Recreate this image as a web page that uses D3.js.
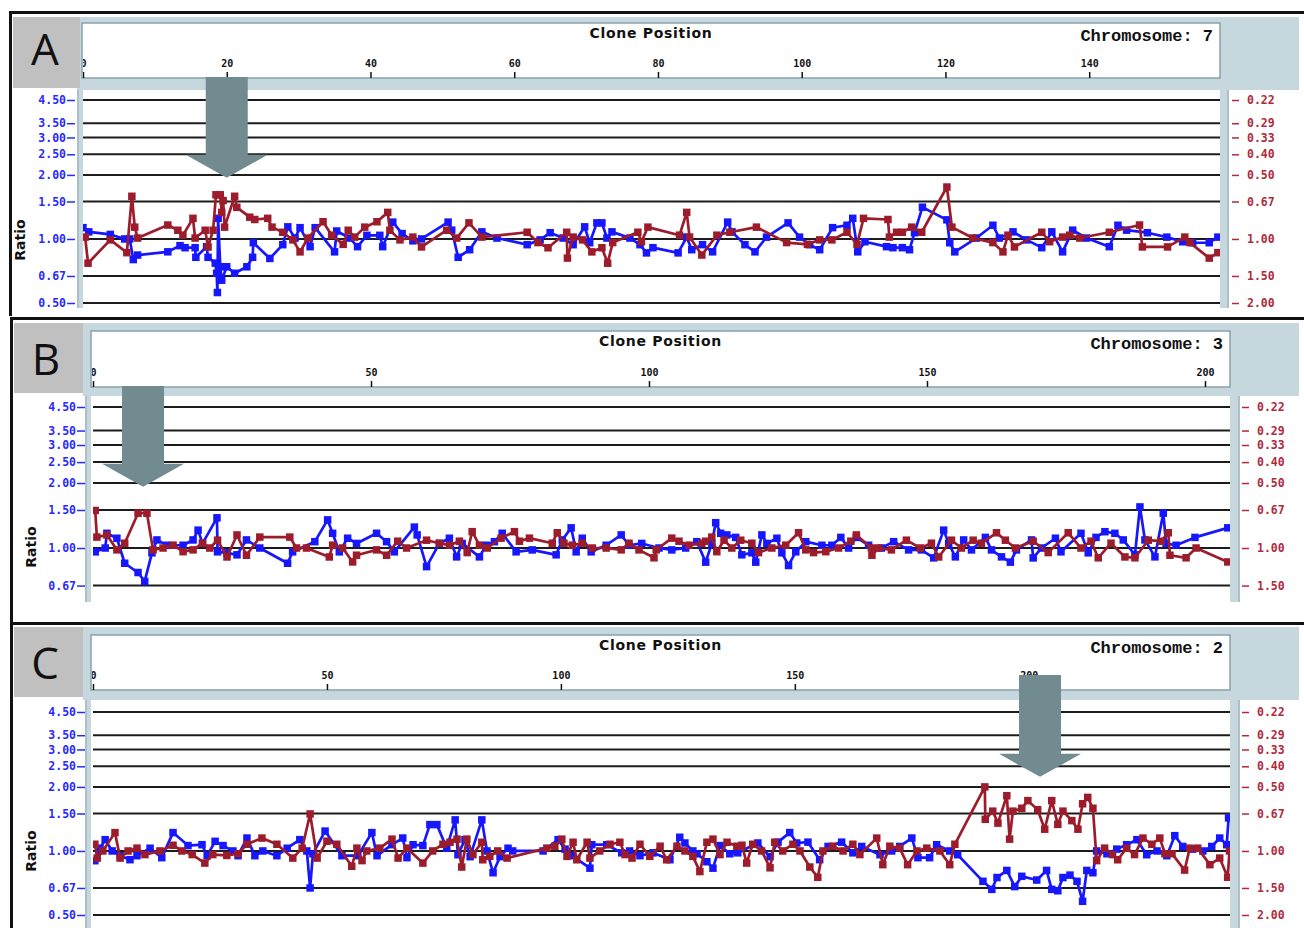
<!DOCTYPE html>
<html><head><meta charset="utf-8">
<script src="https://cdn.jsdelivr.net/npm/d3@7"></script>
<style>body{margin:0;background:#fff}svg{display:block}</style>
</head><body><svg id="c" width="1304" height="928"></svg>
<script>
// ---------------- DATA ----------------
const panelNames = ["A", "B", "C"];
const chromosomes = ["Chromosome: 7", "Chromosome: 3", "Chromosome: 2"];
const xTicksA = [0, 20, 40, 60, 80, 100, 120, 140];
const xTicksB = [0, 50, 100, 150, 200];
const xTicksC = [0, 50, 100, 150, 200];
const xMaxes = [158.2, 204.5, 243];
const leftTicks = [4.5, 3.5, 3, 2.5, 2, 1.5, 1, 0.67, 0.5];
const leftTickLabels = ["4.50", "3.50", "3.00", "2.50", "2.00", "1.50", "1.00", "0.67", "0.50"];
const rightTickLabels = ["0.22", "0.29", "0.33", "0.40", "0.50", "0.67", "1.00", "1.50", "2.00"];
const arrowPos = [20, 9, 202.4];
const arrowRatio = [1.94, 1.92, 2.23];

// blue: [clone position, ratio (left axis)]; red: [clone position, value (right axis)]
const blueA = [[0,1.13],[0.8,1.08],[3.8,1.05],[5.8,1.00],[6.5,1.00],[7.0,0.80],[7.6,0.84],[11.8,0.87],[13.5,0.93],[14.2,0.91],[15.6,0.91],[15.7,0.82],[17.2,0.92],[17.4,0.82],[18.4,0.77],[18.6,0.69],[18.7,0.56],[18.8,1.25],[19.1,0.74],[19.3,0.64],[20.0,0.74],[21.1,0.69],[22.8,0.74],[23.6,0.82],[23.7,0.96],[26.0,0.81],[27.8,0.94],[28.5,1.14],[29.5,1.01],[30.2,1.13],[31.6,0.92],[32.3,1.13],[35.0,0.87],[35.3,1.09],[37.1,1.01],[38.2,0.92],[39.5,1.04],[41.3,1.04],[41.7,0.92],[43.1,1.20],[44.4,1.06],[45.9,0.98],[47.1,1.00],[50.8,1.20],[51.3,1.10],[52.2,0.82],[53.8,0.89],[55.5,1.08],[57.6,1.01],[61.8,0.94],[63.6,0.99],[65.0,1.07],[66.8,1.01],[68.2,0.94],[69.8,1.14],[70.5,0.96],[71.5,1.19],[72.2,1.19],[72.9,1.01],[73.6,1.08],[76.1,1.01],[77.5,0.94],[78.4,0.86],[79.3,0.91],[82.8,0.86],[84.0,1.02],[84.7,0.89],[86.2,0.94],[87.6,0.87],[89.7,1.20],[90.3,1.08],[92.1,0.94],[93.5,0.87],[95.1,1.02],[98.1,1.19],[99.7,1.02],[101.1,0.94],[102.5,0.89],[104.3,1.13],[106.3,1.16],[107.1,1.25],[107.8,0.87],[108.8,0.97],[111.8,0.92],[112.7,0.91],[114.0,0.91],[115.0,0.89],[115.7,1.07],[116.8,1.41],[120.2,1.23],[120.6,0.96],[121.3,0.87],[124.3,1.01],[126.6,1.16],[127.5,1.01],[129.4,1.08],[131.3,0.99],[133.4,0.91],[134.8,1.08],[136.3,0.87],[137.7,1.10],[139.6,1.01],[142.8,0.92],[144.0,1.16],[145.2,1.10],[148.1,1.07],[150.8,1.02],[153.0,0.97],[154.4,0.96],[156.7,0.96],[157.9,1.02]];
const redA = [[0.3,0.98],[0.7,1.30],[3.8,1.01],[6.1,1.16],[6.8,0.63],[7.2,0.88],[7.6,0.99],[11.8,0.86],[13.2,0.91],[13.9,0.96],[15.3,0.80],[15.6,0.99],[17.0,0.91],[17.4,1.09],[18.1,0.91],[18.5,0.62],[19.1,0.62],[19.3,0.75],[19.5,0.66],[19.7,0.88],[21.1,0.63],[21.4,0.71],[23.2,0.79],[23.9,0.81],[25.7,0.80],[26.3,0.88],[27.8,0.93],[29.2,1.01],[30.2,1.15],[31.3,0.99],[33.4,0.83],[34.6,0.96],[36.2,1.06],[36.9,0.91],[37.8,0.98],[39.2,0.88],[40.9,0.83],[42.4,0.75],[42.7,0.91],[44.1,1.01],[45.9,0.98],[47.1,1.09],[50.6,0.91],[52.0,0.99],[53.7,0.84],[55.5,0.98],[61.8,0.93],[63.3,1.04],[64.7,1.10],[67.3,0.93],[67.4,1.23],[68.2,0.98],[69.5,1.01],[70.8,1.15],[72.2,1.10],[73.0,1.30],[73.7,1.04],[77.2,0.93],[77.7,1.03],[78.6,0.88],[83.0,0.96],[84.0,0.75],[84.4,0.98],[86.1,1.19],[88.2,0.96],[90.0,0.93],[93.7,0.88],[97.9,1.04],[100.8,1.06],[102.5,1.01],[104.2,1.01],[106.3,0.93],[107.7,1.06],[108.6,0.80],[112.0,0.81],[112.2,0.98],[113.2,0.93],[114.0,0.93],[115.3,0.88],[116.7,0.93],[120.2,0.57],[120.9,0.88],[123.8,0.99],[126.6,1.04],[128.0,1.15],[128.7,0.96],[129.6,1.09],[133.4,0.93],[134.5,1.03],[136.3,0.98],[137.3,0.96],[138.7,0.99],[142.8,0.93],[147.0,0.86],[147.4,1.09],[150.9,1.09],[153.3,0.98],[154.0,1.04],[156.7,1.23],[157.9,1.16]];
const blueB = [[0.4,0.96],[2.2,1.00],[2.5,1.17],[4.3,1.11],[5.7,0.85],[8.1,0.77],[9.3,0.70],[10.6,0.95],[11.5,1.09],[13.3,1.03],[16.2,1.03],[18.0,1.09],[18.9,1.21],[19.7,1.05],[22.3,1.38],[22.4,0.96],[24.1,0.95],[25.9,0.93],[27.6,1.09],[30.0,1.00],[35.0,0.85],[35.9,0.96],[39.9,1.07],[42.2,1.35],[43.1,1.17],[44.3,0.96],[45.8,1.11],[47.4,1.05],[51.0,1.17],[52.8,1.07],[54.2,0.96],[57.8,1.25],[58.3,1.15],[60.0,0.82],[62.3,1.05],[64.1,1.11],[65.4,0.91],[66.4,1.05],[69.5,0.91],[70.7,1.03],[72.2,1.07],[73.6,1.17],[76.1,0.96],[79.0,0.98],[83.3,0.93],[84.4,1.09],[86.0,1.24],[86.9,0.96],[88.0,1.11],[89.6,0.96],[92.3,1.03],[95.0,1.15],[96.4,1.03],[98.7,1.05],[101.8,1.00],[104.1,0.98],[106.6,1.00],[108.6,1.07],[110.2,0.86],[111.3,1.05],[112.0,1.31],[112.9,1.17],[114.0,1.15],[115.6,1.12],[116.7,0.93],[118.5,0.95],[119.2,0.86],[120.3,1.15],[121.2,1.05],[123.0,1.11],[123.9,0.95],[125.1,0.83],[126.4,0.96],[128.2,1.07],[131.1,1.03],[132.9,1.03],[134.5,1.12],[135.9,1.00],[137.3,1.12],[139.5,1.03],[141.8,1.00],[144.0,1.07],[146.7,0.98],[149.0,0.98],[151.2,0.90],[153.0,1.21],[153.9,1.05],[155.1,0.91],[156.6,1.09],[158.0,0.98],[160.5,1.12],[161.6,0.98],[163.4,0.91],[165.0,0.86],[166.1,0.98],[168.8,1.09],[169.1,0.90],[170.6,1.00],[173.1,1.11],[174.1,0.96],[177.7,1.17],[179.0,0.95],[180.4,1.12],[182.0,1.19],[183.8,1.17],[185.3,1.09],[187.4,0.93],[188.3,1.55],[189.2,1.09],[191.0,0.91],[192.5,1.45],[193.0,1.05],[194.8,1.03],[198.2,1.12],[204.1,1.24]];
const redB = [[0.4,0.67],[0.7,0.89],[2.5,0.87],[4.3,1.02],[5.7,0.95],[8.1,0.69],[9.7,0.69],[10.8,1.02],[12.6,1.00],[14.4,0.97],[16.2,1.04],[18.0,1.02],[19.7,0.95],[21.0,1.00],[22.4,0.92],[24.1,1.10],[25.9,0.87],[27.6,1.08],[30.0,0.89],[35.4,0.89],[36.6,1.00],[38.4,1.00],[42.5,1.10],[43.1,0.97],[44.9,1.00],[46.7,1.16],[47.4,1.08],[51.0,1.02],[52.8,1.08],[54.8,0.93],[56.4,1.00],[60.0,0.92],[62.3,0.95],[64.1,0.97],[65.9,0.93],[67.3,1.05],[68.2,0.84],[69.5,0.97],[70.9,1.00],[73.4,0.90],[75.8,0.84],[76.7,0.93],[78.5,0.90],[82.6,0.95],[83.5,0.85],[84.7,0.95],[86.2,0.97],[88.0,0.95],[89.8,1.00],[92.3,1.00],[95.0,1.02],[96.4,0.95],[98.2,1.02],[100.9,1.11],[101.3,1.02],[104.1,0.90],[105.4,0.93],[107.2,0.97],[109.5,0.95],[110.2,0.93],[111.3,0.89],[112.2,1.04],[113.5,0.92],[114.9,1.00],[116.5,0.92],[118.5,0.95],[119.7,1.05],[122.1,1.00],[124.6,0.97],[126.9,0.85],[128.2,1.02],[129.6,1.05],[131.8,1.04],[134.1,1.00],[136.3,0.93],[137.3,0.87],[140.0,1.00],[140.1,1.08],[141.3,1.00],[143.6,1.02],[146.3,0.92],[148.8,1.00],[150.8,0.95],[152.1,1.10],[154.4,0.92],[156.2,1.00],[158.3,0.92],[159.8,0.95],[162.5,0.85],[164.1,0.92],[165.9,1.00],[169.1,0.93],[171.8,1.05],[175.4,0.85],[177.7,1.00],[179.5,0.93],[180.8,1.11],[183.1,0.95],[185.6,1.10],[187.4,1.11],[189.8,0.92],[192.1,0.93],[193.4,0.85],[193.7,1.08],[196.6,1.11],[198.4,1.00],[204.1,1.16]];
const blueC = [[0.4,0.90],[1.5,1.03],[2.6,1.13],[4.1,1.00],[5.8,0.95],[7.9,0.91],[9.4,0.95],[12.2,1.03],[14.7,0.93],[17.1,1.22],[20.3,1.06],[23.3,1.07],[24.4,0.95],[26.1,1.11],[27.8,1.06],[29.9,1.00],[31.0,0.95],[32.9,1.15],[34.6,0.95],[36.3,1.00],[39.3,0.95],[41.5,1.03],[44.2,1.13],[45.7,1.00],[46.4,0.67],[47.0,0.97],[49.6,1.24],[53.2,0.95],[56.6,0.95],[59.6,1.22],[60.7,0.95],[63.9,1.07],[66.2,1.15],[67.1,0.93],[68.4,1.07],[70.5,1.06],[72.0,1.33],[73.5,1.33],[75.6,1.03],[77.4,1.40],[78.0,0.96],[79.5,1.13],[80.6,0.94],[83.1,1.40],[84.2,1.00],[85.5,0.79],[87.0,0.94],[88.7,1.03],[89.7,1.00],[96.2,1.00],[99.4,1.13],[100.9,1.02],[102.4,0.95],[106.2,0.83],[106.6,1.07],[109.8,1.07],[113.0,0.98],[114.7,1.00],[116.9,0.95],[119.7,0.98],[123.3,0.91],[125.4,1.16],[126.5,1.09],[128.2,1.00],[129.1,0.97],[131.2,0.89],[132.5,0.83],[134.0,1.06],[136.1,0.97],[137.8,0.98],[142.1,1.09],[144.7,0.94],[146.4,1.10],[148.9,1.22],[150.4,1.09],[152.8,1.10],[155.3,0.91],[157.1,1.05],[160.0,1.10],[162.4,0.98],[164.3,1.05],[168.2,0.96],[170.7,1.00],[172.4,1.05],[175.0,1.15],[176.3,0.93],[178.8,0.93],[180.3,1.07],[183.1,1.00],[184.8,0.96],[190.2,0.72],[192.1,0.66],[193.2,0.75],[195.3,0.81],[197.0,0.68],[198.5,0.76],[201.7,0.73],[203.8,0.81],[204.9,0.66],[206.2,0.65],[207.3,0.75],[208.8,0.77],[210.3,0.72],[211.5,0.58],[212.4,0.81],[213.7,0.79],[214.5,1.00],[216.7,0.97],[218.8,1.02],[220.9,1.07],[223.1,1.13],[225.2,0.96],[227.4,1.00],[229.5,0.95],[231.2,1.18],[232.9,1.05],[235.0,1.02],[237.2,1.00],[239.1,1.05],[240.8,1.15],[242.3,1.07],[242.7,1.43]];
const redC = [[0.4,0.93],[0.9,1.08],[2.1,1.00],[4.7,0.82],[5.8,1.08],[7.5,1.00],[9.4,0.97],[11.1,1.04],[14.3,1.00],[17.1,0.94],[19.0,1.00],[21.2,1.04],[23.9,1.14],[25.6,1.04],[28.6,1.05],[31.0,1.03],[32.9,0.93],[36.1,0.87],[39.3,0.93],[42.7,1.08],[44.7,0.97],[46.4,0.67],[47.9,1.08],[50.0,0.90],[52.1,0.93],[55.3,1.18],[56.4,0.97],[57.5,1.11],[58.5,1.00],[61.3,0.97],[63.9,0.88],[65.2,1.08],[67.1,0.97],[70.5,1.14],[72.6,1.00],[74.8,0.93],[76.3,0.91],[77.8,0.88],[78.8,1.19],[79.9,0.88],[81.2,1.04],[83.1,0.91],[83.3,1.10],[84.8,1.06],[86.5,1.00],[88.5,1.08],[97.0,0.97],[98.7,0.95],[100.2,0.88],[101.3,1.06],[102.6,0.91],[103.4,1.10],[105.6,0.91],[106.2,1.08],[108.3,1.00],[110.5,0.93],[112.6,0.91],[113.7,1.04],[115.2,1.08],[116.9,0.93],[119.0,1.06],[121.2,0.95],[122.6,1.10],[124.8,0.95],[126.5,1.00],[128.2,1.06],[129.7,1.25],[131.2,0.91],[132.5,0.88],[134.0,1.04],[135.5,0.91],[137.6,0.95],[138.7,0.94],[139.7,1.14],[141.0,0.93],[142.9,1.00],[144.7,1.20],[145.7,0.91],[147.4,1.00],[149.6,0.93],[151.1,1.00],[153.2,1.19],[154.9,1.33],[156.0,1.00],[158.1,0.95],[160.3,1.00],[162.4,0.93],[163.9,1.04],[167.5,0.87],[168.8,1.16],[170.3,0.95],[172.4,0.97],[174.1,1.16],[176.1,1.00],[178.2,0.97],[181.0,1.00],[183.1,1.16],[184.2,0.93],[190.6,0.50],[190.7,0.71],[192.3,0.65],[193.4,0.74],[195.3,0.55],[195.9,0.88],[196.6,0.65],[198.5,0.63],[199.8,0.58],[201.9,0.64],[203.4,0.79],[204.9,0.58],[206.2,0.75],[207.3,0.65],[209.2,0.72],[210.5,0.79],[211.5,0.60],[212.6,0.56],[213.7,0.63],[214.5,1.11],[216.2,0.97],[217.9,1.04],[219.0,1.10],[220.9,0.97],[222.6,1.04],[224.4,0.87],[226.3,0.93],[228.0,0.87],[229.1,1.03],[230.6,1.03],[233.3,1.23],[234.4,0.97],[236.1,0.97],[238.7,1.16],[240.8,1.08],[242.5,1.33],[242.9,1.00]];

// ---------------- LAYOUT ----------------
const layout = [
  {top:11, left:9, bottom:316, grey:[13,17,80,88], band:[80,17,1299,90], header:[82,23,1220,78], plot:[83,90,1220,308],
   lstrip:[77,83], rstrip:[1220,1229], ldash:[67,75], rdash:[1232,1239], yr:[303,100], ratio:[20,240], letter:[45,48], shaftTop:77},
  {top:317, left:10, bottom:623, grey:[14,323,83,393], band:[83,323,1299,396], header:[91,331,1230,387], plot:[93,396,1230,602],
   lstrip:[85,91], rstrip:[1230,1240], ldash:[77,85], rdash:[1242,1249], yr:[613,407], ratio:[31,547], letter:[46,358], shaftTop:386},
  {top:622, left:10, bottom:928, grey:[14,627,83,697], band:[83,627,1299,700], header:[91,635,1230,690], plot:[93,700,1230,928],
   lstrip:[85,91], rstrip:[1230,1240], ldash:[77,85], rdash:[1242,1249], yr:[915,712], ratio:[31,851], letter:[45,662], shaftTop:675}
];

const LB = "#c7d7de", GREY = "#c0c0c0", BLUE = "#1616ff", RED = "#9c1c2c", ARROW = "#728b90";
const BLUE_T = "#2a2aff", RED_T = "#b02a3c";
const panelData = [
  {xTicks:xTicksA, blue:blueA, red:redA},
  {xTicks:xTicksB, blue:blueB, red:redB},
  {xTicks:xTicksC, blue:blueC, red:redC}
];

const svg = d3.select("#c");
const defs = svg.append("defs");

panelNames.forEach((name, i) => {
  const L = layout[i], D = panelData[i];
  const g = svg.append("g");
  const [hx0, hy0, hx1, hy1] = L.header;
  const [px0, py0, px1, py1] = L.plot;

  g.append("rect").attr("x", L.left).attr("y", L.top).attr("width", 1304 - L.left).attr("height", 3).attr("fill", "#111");
  g.append("rect").attr("x", L.left).attr("y", L.top).attr("width", 3).attr("height", L.bottom - L.top).attr("fill", "#111");

  g.append("rect").attr("x", L.band[0]).attr("y", L.band[1]).attr("width", L.band[2] - L.band[0]).attr("height", L.band[3] - L.band[1]).attr("fill", LB);
  g.append("rect").attr("x", L.grey[0]).attr("y", L.grey[1]).attr("width", L.grey[2] - L.grey[0]).attr("height", L.grey[3] - L.grey[1]).attr("fill", GREY);
  g.append("text").attr("x", L.letter[0]).attr("y", L.letter[1]).attr("text-anchor", "middle").attr("dominant-baseline", "central")
    .attr("font-family", "'Open Sans', 'DejaVu Sans', sans-serif").attr("font-size", 44).attr("fill", "#111").text(name);

  g.append("rect").attr("x", hx0).attr("y", hy0).attr("width", hx1 - hx0).attr("height", hy1 - hy0)
    .attr("fill", "#fff").attr("stroke", "#86a2ac").attr("stroke-width", 1.5);

  g.append("rect").attr("x", L.lstrip[0]).attr("y", L.band[3] - 2).attr("width", L.lstrip[1] - L.lstrip[0]).attr("height", py1 - L.band[3] + 2).attr("fill", LB);
  g.append("rect").attr("x", L.rstrip[0]).attr("y", L.band[3] - 2).attr("width", L.rstrip[1] - L.rstrip[0]).attr("height", py1 - L.band[3] + 2).attr("fill", LB);
  g.append("line").attr("x1", L.lstrip[0] + 1).attr("x2", L.lstrip[0] + 1).attr("y1", L.band[3]).attr("y2", py1).attr("stroke", "#8fa8b0").attr("stroke-width", 1);
  g.append("line").attr("x1", L.rstrip[1] - 1).attr("x2", L.rstrip[1] - 1).attr("y1", L.band[3]).attr("y2", py1).attr("stroke", "#8fa8b0").attr("stroke-width", 1);

  defs.append("clipPath").attr("id", "hclip" + i).append("rect").attr("x", hx0 + 1).attr("y", hy0).attr("width", hx1 - hx0 - 2).attr("height", hy1 - hy0);
  defs.append("clipPath").attr("id", "pclip" + i).append("rect").attr("x", px0).attr("y", py0).attr("width", px1 - px0).attr("height", py1 - py0);

  const x = d3.scaleLinear().domain([0, xMaxes[i]]).range([px0, px1]);
  const y = d3.scaleLog().base(2).domain([0.5, 4.5]).range(L.yr);
  const yR = d3.scaleLog().base(2).domain([2, 1 / 4.5]).range(L.yr);

  const hg = g.append("g").attr("clip-path", `url(#hclip${i})`);
  hg.append("text").attr("x", (hx0 + hx1) / 2).attr("y", hy0 + 15).attr("text-anchor", "middle")
    .attr("font-family", "'DejaVu Sans', sans-serif").attr("font-weight", "bold").attr("font-size", 14)
    .attr("letter-spacing", 0.7).attr("fill", "#111").text("Clone Position");
  hg.append("text").attr("x", hx1 - 7).attr("y", hy0 + 18).attr("text-anchor", "end")
    .attr("font-family", "'Liberation Mono', 'Courier New', monospace").attr("font-weight", "bold").attr("font-size", 17)
    .attr("fill", "#111").text(chromosomes[i]);
  const xa = hg.append("g").attr("transform", `translate(0,${hy1})`)
    .call(d3.axisTop(x).tickValues(D.xTicks).tickFormat(d3.format("d")).tickSize(6).tickPadding(5));
  xa.select(".domain").remove();
  xa.selectAll("line").attr("stroke", "#111").attr("stroke-width", 1.5);
  xa.selectAll("text").attr("font-family", "'DejaVu Sans Mono', monospace").attr("font-weight", "bold").attr("font-size", 10).attr("fill", "#111");

  const visIdx = leftTicks.map((v, k) => k).filter(k => y(leftTicks[k]) >= py0 && y(leftTicks[k]) <= py1 - 2);
  const visTicks = visIdx.map(k => leftTicks[k]);
  g.append("g").selectAll("line").data(visTicks).join("line")
    .attr("x1", px0).attr("x2", px1).attr("y1", d => y(d)).attr("y2", d => y(d))
    .attr("stroke", "#1c1c1c").attr("stroke-width", 2);

  const la = g.append("g").attr("transform", `translate(${L.ldash[1]},0)`)
    .call(d3.axisLeft(y).tickValues(visTicks).tickFormat(d => leftTickLabels[leftTicks.indexOf(d)])
      .tickSize(L.ldash[1] - L.ldash[0]).tickPadding(1));
  la.select(".domain").remove();
  la.selectAll("line").attr("stroke", BLUE_T).attr("stroke-width", 1.5);
  la.selectAll("text").attr("font-family", "'DejaVu Sans Mono', monospace").attr("font-weight", "bold").attr("font-size", 11.5).attr("fill", BLUE_T);

  const rVis = visIdx.map(k => 1 / leftTicks[k]);
  const ra = g.append("g").attr("transform", `translate(${L.rdash[0]},0)`)
    .call(d3.axisRight(yR).tickValues(rVis).tickFormat((d, k) => rightTickLabels[visIdx[k]])
      .tickSize(L.rdash[1] - L.rdash[0]).tickPadding(8));
  ra.select(".domain").remove();
  ra.selectAll("line").attr("stroke", RED_T).attr("stroke-width", 1.5);
  ra.selectAll("text").attr("font-family", "'DejaVu Sans Mono', monospace").attr("font-weight", "bold").attr("font-size", 11.5).attr("fill", RED_T);

  g.append("text").attr("transform", `translate(${L.ratio[0]},${L.ratio[1]}) rotate(-90)`)
    .attr("text-anchor", "middle").attr("dominant-baseline", "central")
    .attr("font-family", "'DejaVu Sans', sans-serif").attr("font-weight", "bold").attr("font-size", 14).attr("fill", "#111").text("Ratio");

  const pg = g.append("g").attr("clip-path", `url(#pclip${i})`);
  const series = [
    {data: D.blue, ys: y, color: BLUE},
    {data: D.red, ys: yR, color: RED}
  ];
  series.forEach(s => {
    const line = d3.line().x(d => x(d[0])).y(d => s.ys(d[1]));
    pg.append("path").datum(s.data).attr("d", line).attr("fill", "none").attr("stroke", s.color).attr("stroke-width", 2.7).attr("stroke-linejoin", "round");
    pg.append("g").selectAll("rect").data(s.data).join("rect")
      .attr("x", d => x(d[0]) - 3.75).attr("y", d => s.ys(d[1]) - 3.75).attr("width", 7.5).attr("height", 7.5).attr("fill", s.color);
  });

  const tx = x(arrowPos[i]), ty = y(arrowRatio[i]);
  const path = d3.path();
  path.moveTo(tx - 21, L.shaftTop); path.lineTo(tx + 21, L.shaftTop); path.lineTo(tx + 21, ty - 23);
  path.lineTo(tx + 41, ty - 23); path.lineTo(tx, ty); path.lineTo(tx - 41, ty - 23); path.lineTo(tx - 21, ty - 23); path.closePath();
  g.append("path").attr("d", path.toString()).attr("fill", ARROW);
});
</script>
</body></html>
